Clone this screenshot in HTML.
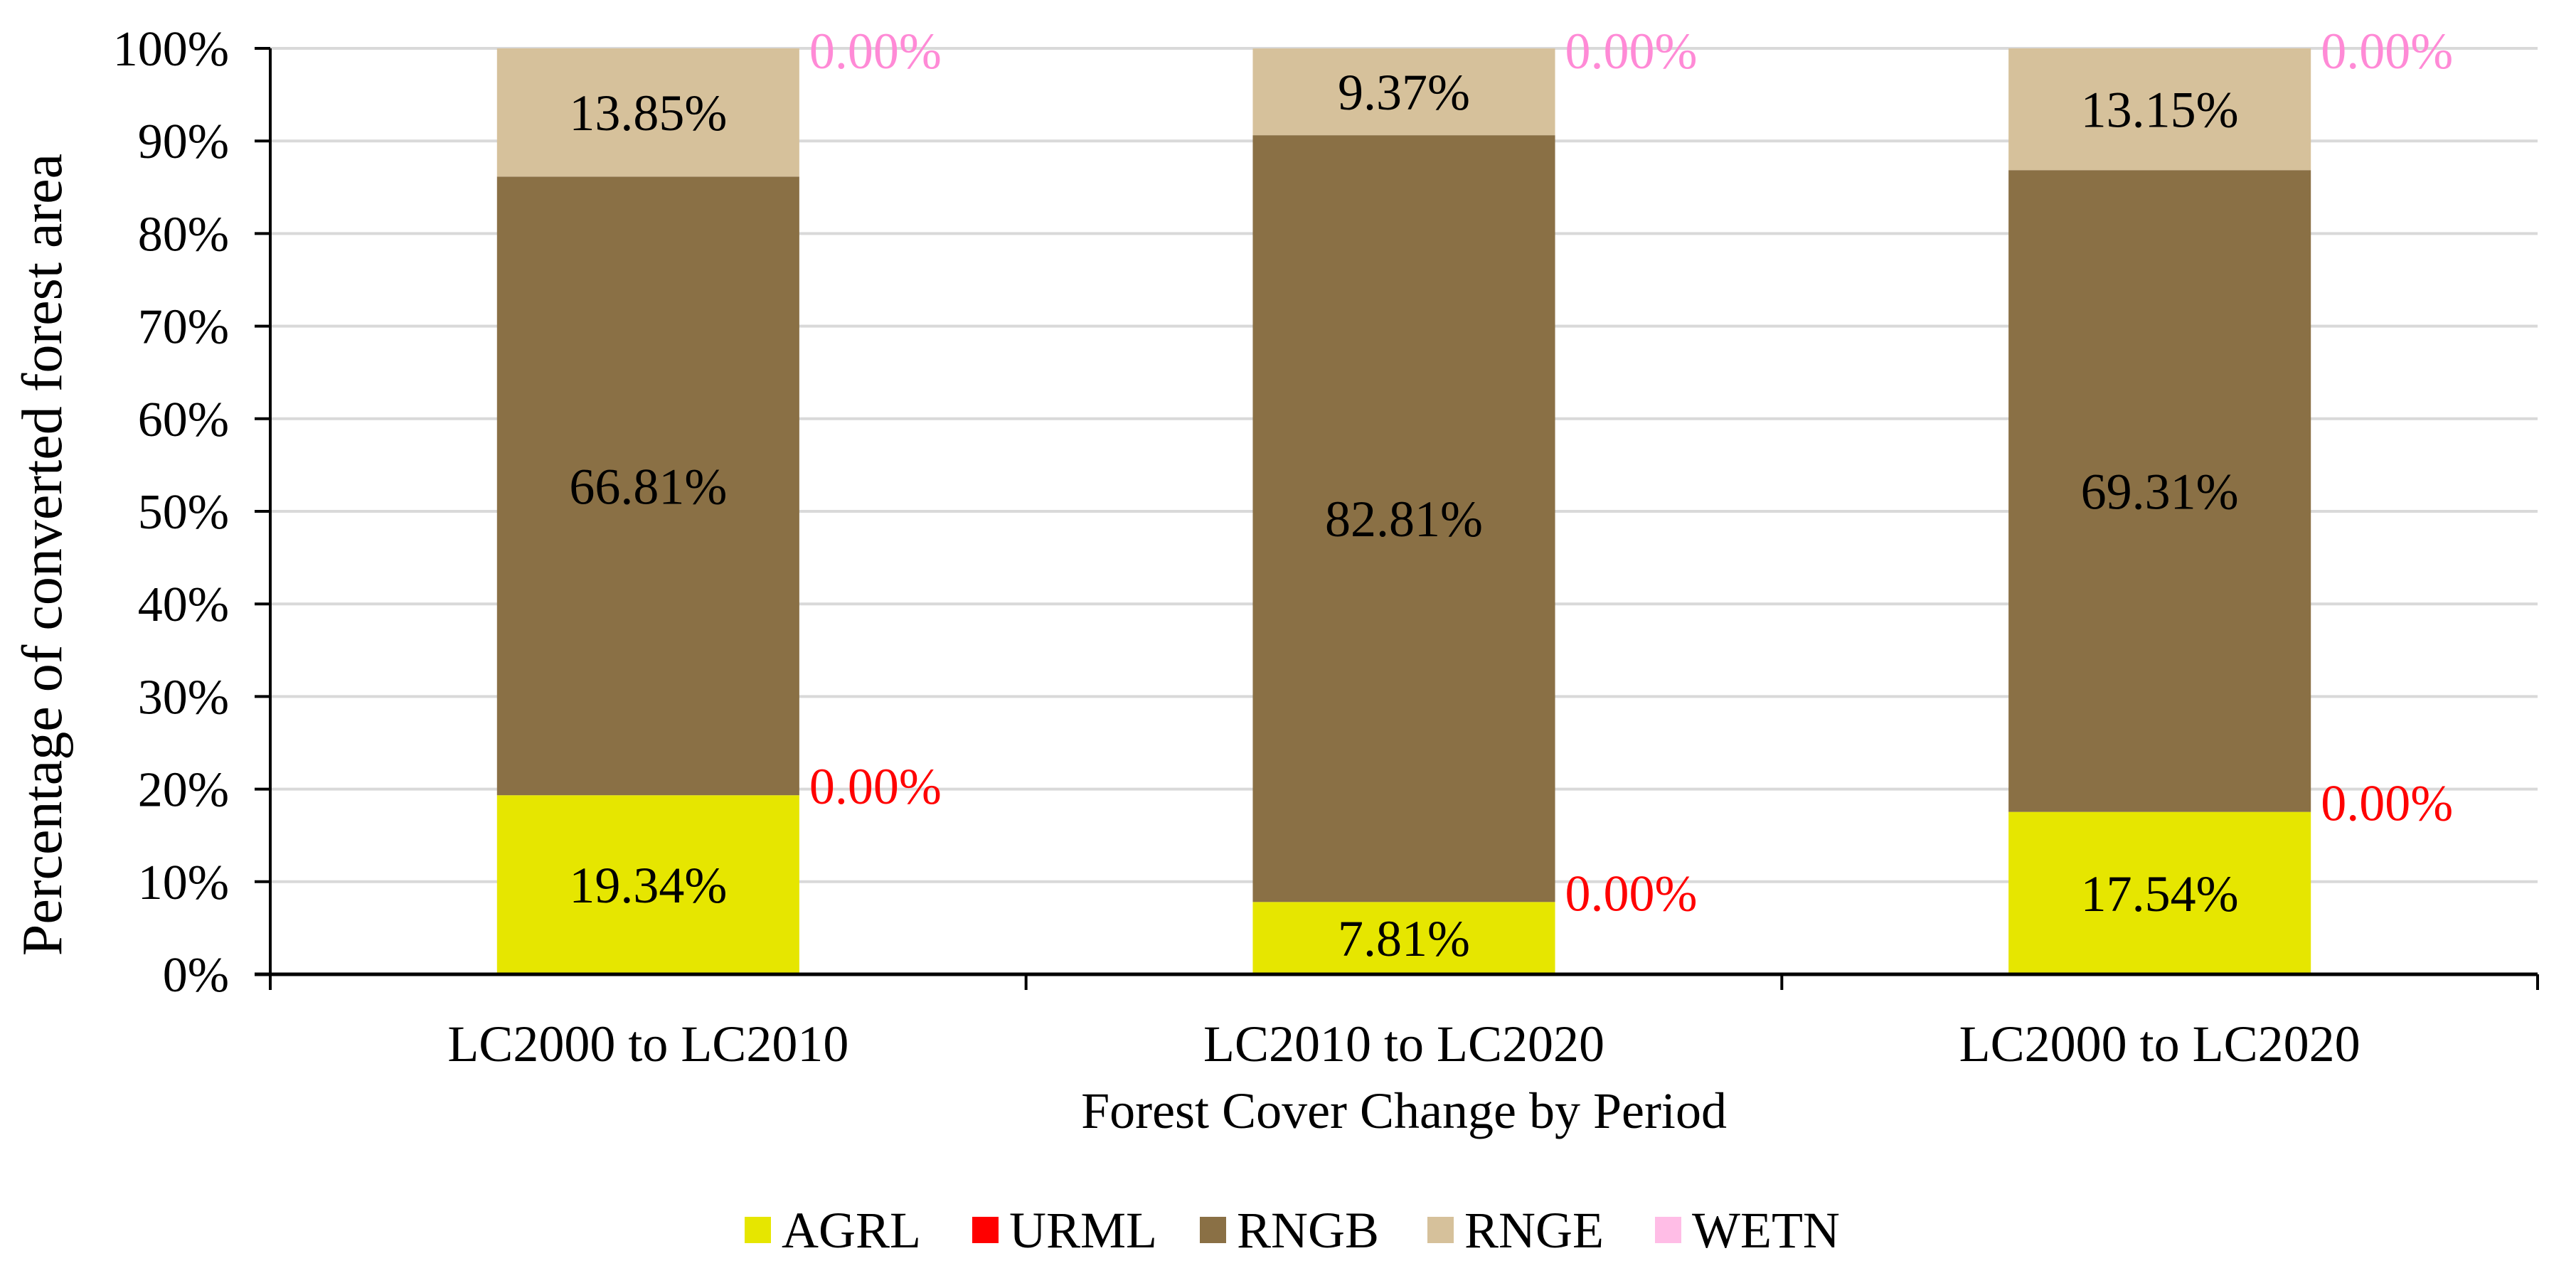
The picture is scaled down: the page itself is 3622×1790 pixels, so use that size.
<!DOCTYPE html>
<html><head><meta charset="utf-8">
<style>
html,body{margin:0;padding:0;background:#fff;}
svg{display:block;font-family:"Liberation Serif","Times New Roman",serif;}
</style></head>
<body>
<svg id="chart" width="3622" height="1790" viewBox="0 0 3622 1790" xmlns="http://www.w3.org/2000/svg">
<g id="grid"></g>
<g id="bars"></g>
<g id="axes"></g>
<g id="labels"></g>
<text transform="translate(86,780) rotate(-90)" text-anchor="middle" font-size="80">Percentage of converted forest area</text>
<text x="1974" y="1586" text-anchor="middle" font-size="72">Forest Cover Change by Period</text>
<g id="legend"></g>
</svg>
<script>
const categories = ["LC2000 to LC2010", "LC2010 to LC2020", "LC2000 to LC2020"];
const seriesNames = ["AGRL", "URML", "RNGB", "RNGE", "WETN"];
const agrl = [19.34, 7.81, 17.54];
const urml = [0.00, 0.00, 0.00];
const rngb = [66.81, 82.81, 69.31];
const rnge = [13.85, 9.37, 13.15];
const wetn = [0.00, 0.00, 0.00];
const yTicks = [0, 10, 20, 30, 40, 50, 60, 70, 80, 90, 100];

const colors = ["#e6e600", "#ff0000", "#8a7045", "#d6c19b", "#ffbde6"];
const series = [agrl, urml, rngb, rnge, wetn];
const NS = "http://www.w3.org/2000/svg";
const L = 380, R = 3568, T = 68, B = 1370;
const catW = (R - L) / categories.length;
const barW = catW * 0.4;
function y(v){ return B - (v / 100) * (B - T); }
function xc(i){ return L + catW * (i + 0.5); }
function mk(tag, attrs, parent){ const e = document.createElementNS(NS, tag); for (const k in attrs) e.setAttribute(k, attrs[k]); parent.appendChild(e); return e; }

const grid = document.getElementById('grid');
const axes = document.getElementById('axes');
yTicks.forEach(t => {
  if (t > 0) {
    const g = mk('line', {x1: L, x2: R, y1: y(t), y2: y(t), stroke: '#d9d9d9', 'stroke-width': 4}, grid);
    
    
  }
  const tk = mk('line', {x1: L - 22, x2: L, y1: y(t), y2: y(t), stroke: '#000', 'stroke-width': 4}, axes);
  
  
  const lb = mk('text', {x: 322, y: y(t) + 24, 'text-anchor': 'end', 'font-size': 70}, axes);
  lb.textContent = t + '%';
  
  
});

const bars = document.getElementById('bars');
const labels = document.getElementById('labels');
categories.forEach((c, i) => {
  let cum = 0;
  series.forEach((s, k) => {
    const v = s[i];
    const y0 = y(cum), y1 = y(cum + v);
    const r = mk('rect', {x: xc(i) - barW / 2, y: y1, width: barW, height: Math.max(0, y0 - y1), fill: colors[k]}, bars);
    
    
    const txt = v.toFixed(2) + '%';
    let t;
    if (v > 0) {
      t = mk('text', {x: xc(i), y: (y0 + y1) / 2 + 25, 'text-anchor': 'middle', 'font-size': 72, fill: '#000'}, labels);
    } else {
      const dy = k === 1 ? 12 : 28;
      t = mk('text', {x: xc(i) + barW / 2 + 14, y: y0 + dy, 'text-anchor': 'start', 'font-size': 72, fill: colors[k] === '#ffbde6' ? '#ff8ad6' : colors[k]}, labels);
    }
    t.textContent = txt;
    
    
    cum += v;
  });
  const xl = mk('text', {x: xc(i), y: 1492, 'text-anchor': 'middle', 'font-size': 72}, axes);
  xl.textContent = c;
  
  
});
for (let i = 0; i <= categories.length; i++) {
  const tk = mk('line', {x1: L + catW * i, x2: L + catW * i, y1: B, y2: B + 22, stroke: '#000', 'stroke-width': 4}, axes);
  
  
}
const ya = mk('line', {x1: L, x2: L, y1: T, y2: B + 22, stroke: '#000', 'stroke-width': 4}, axes);


const xa = mk('line', {x1: L - 22, x2: R, y1: B, y2: B, stroke: '#000', 'stroke-width': 5}, axes);



const legend = document.getElementById('legend');
seriesNames.forEach((n, k) => {
  const lx = 1047 + k * 320;
  const g = mk('g', {}, legend);
  
  
  mk('rect', {x: lx, y: 1711, width: 37, height: 37, fill: colors[k]}, g);
  const t = mk('text', {x: lx + 52, y: 1754, 'font-size': 72}, g);
  t.textContent = n;
});
</script>
</body></html>
